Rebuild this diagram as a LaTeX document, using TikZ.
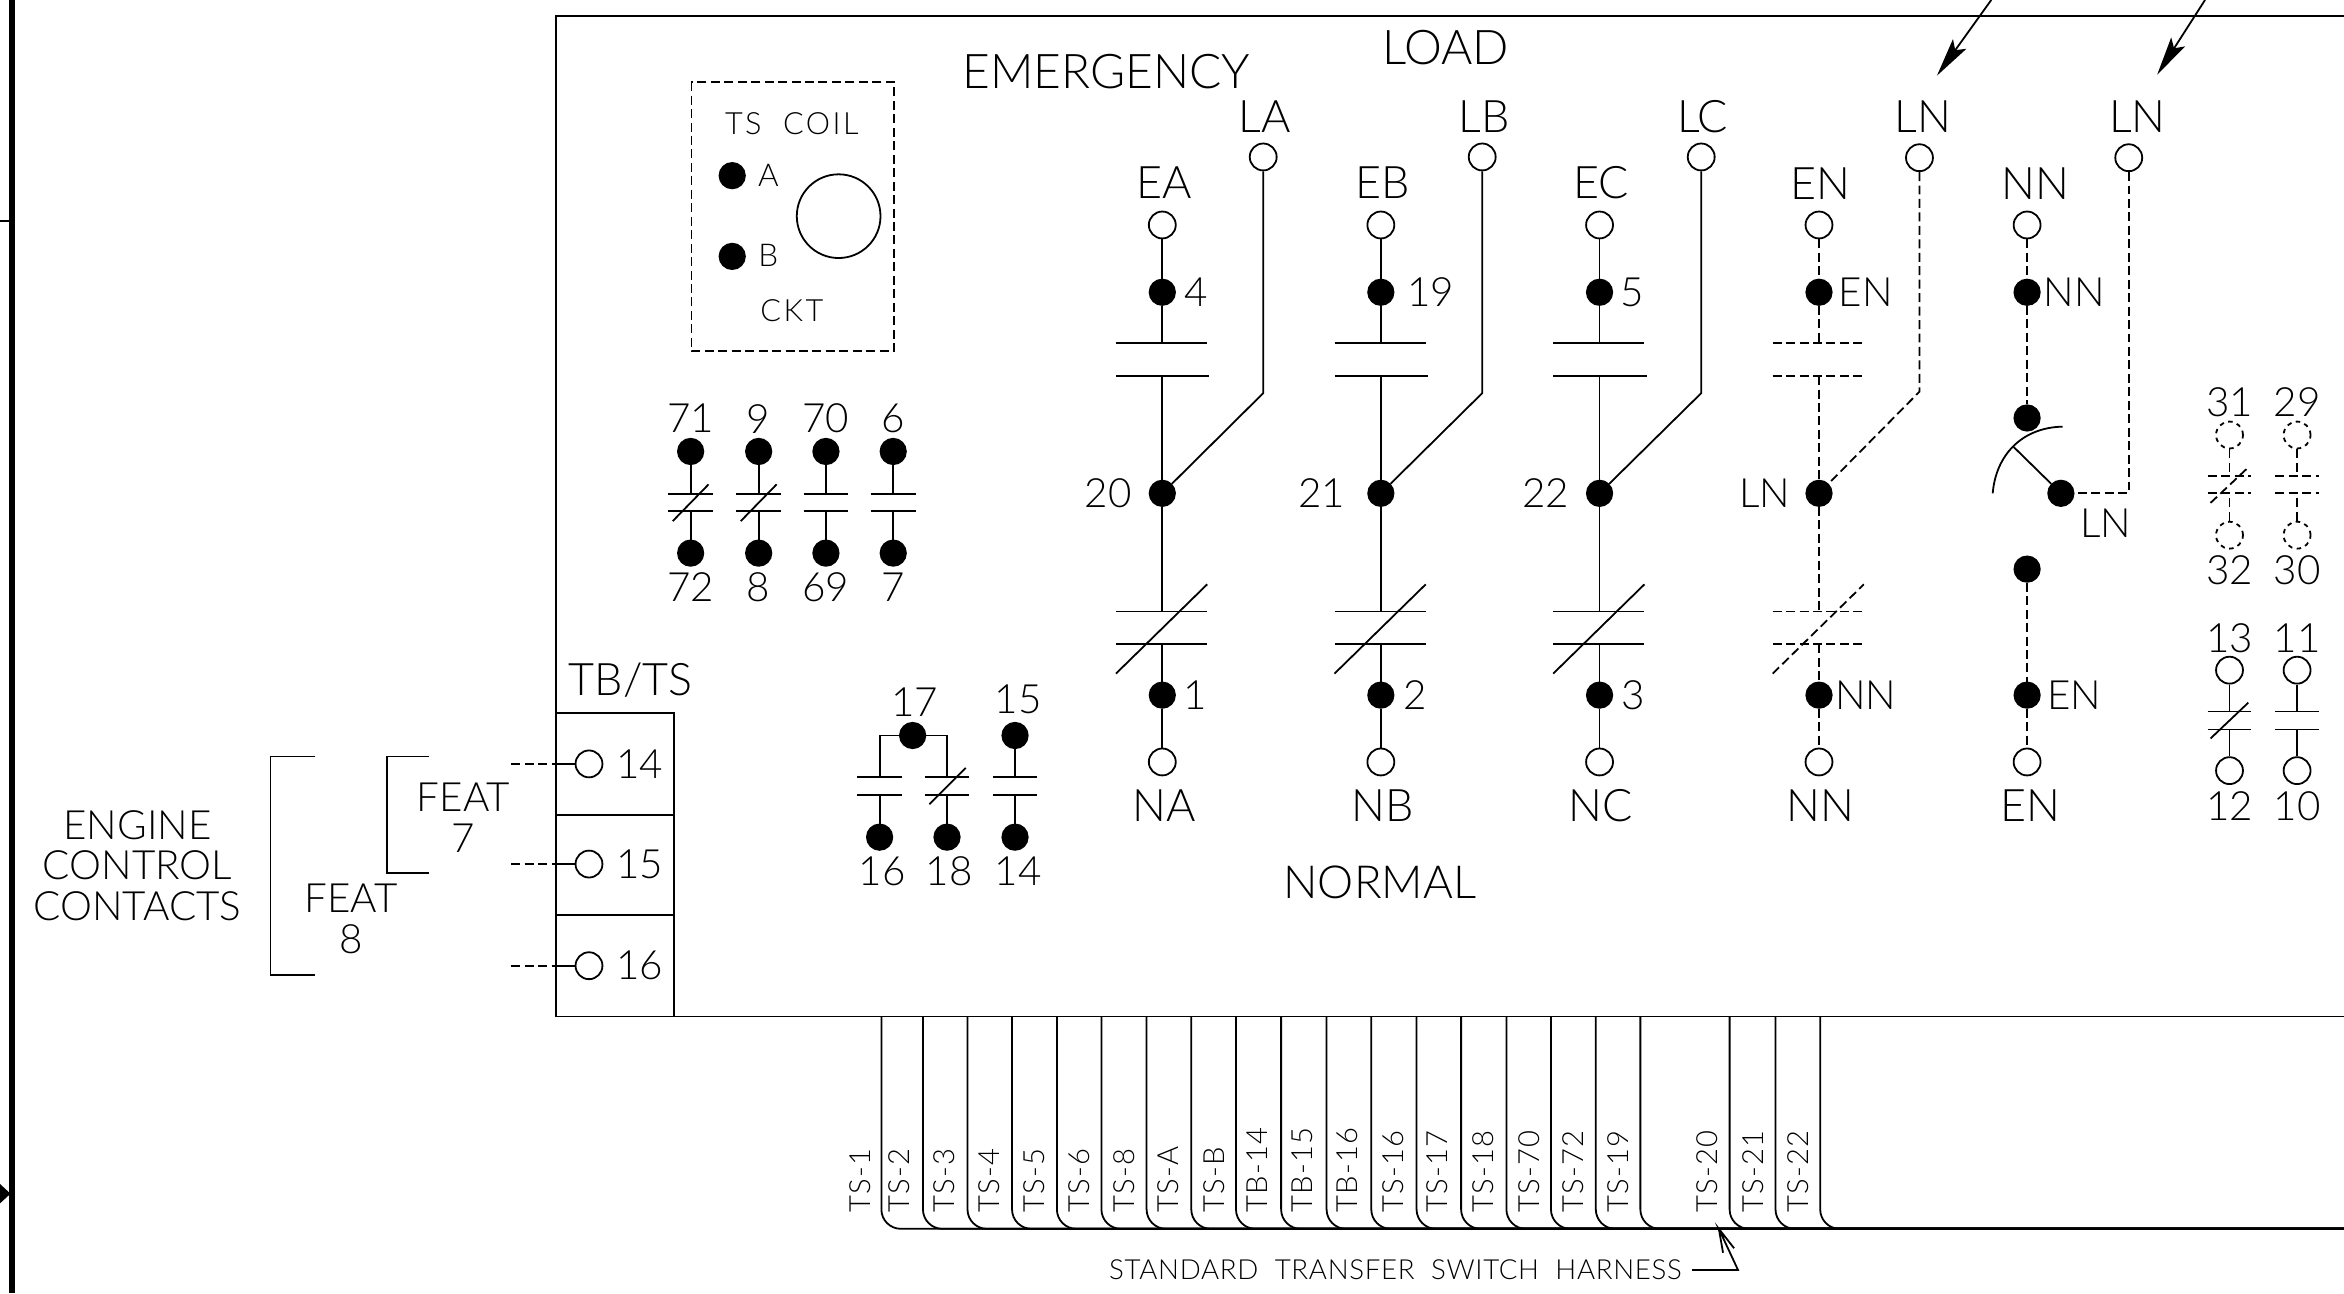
\documentclass[tikz,border=0pt]{standalone}
\usepackage{fontspec}
\setmainfont{Lato Light}
\newfontfamily\harnessfont[LetterSpace=2.5]{Lato Light}
\newfontfamily\wirefont[LetterSpace=5]{Lato Light}
\newfontfamily\coilfont[LetterSpace=8]{Lato Light}
\usetikzlibrary{arrows.meta}
\tikzstyle{every node}=[inner sep=0pt]
\tikzstyle{termdot}=[circle, fill=black, draw=black, minimum size=17pt]
\tikzstyle{termopen}=[circle, draw=black, fill=white, minimum size=18pt]
\tikzstyle{termdash}=[circle, draw=black, fill=white, dashed, minimum size=18pt]
\tikzstyle{bigtxt}=[font=\fontsize{32}{36}\selectfont]
\tikzstyle{lbltxt}=[font=\fontsize{30}{32}\selectfont]
\tikzstyle{numtxt}=[font=\fontsize{27}{29}\selectfont]
\tikzstyle{smalltxt}=[font=\fontsize{21}{23}\selectfont]
\tikzstyle{coiltxt}=[font=\coilfont\fontsize{20.5}{23}\selectfont]
\tikzstyle{wiretxt}=[font=\wirefont\fontsize{19.5}{21}\selectfont, rotate=90, anchor=west]
\tikzstyle{ctrl}=[dash pattern=on 6pt off 3pt]

\begin{document}
\begin{tikzpicture}[x=1pt, y=-1pt, line width=1.2pt]
\useasboundingbox (0,0) rectangle (1568,865);
% Sheet edge
    \draw[line width=3.4pt] (8,0) -- (8,865);
    \draw (0,148) -- (8,148);
    \fill (0,792) -- (7,798.5) -- (0,805) -- cycle;
% Panel
    \draw (1568,10.5) -- (372,10.5) -- (372,680) -- (1568,680);
    \draw (372,477) -- (451,477) -- (451,680);
    \draw (372,545) -- (451,545);
    \draw (372,612) -- (451,612);
    \node[lbltxt, anchor=west] (lTBTS) at (380,455) {TB/TS};
    \node[bigtxt] (lEmergency) at (740,48) {EMERGENCY};
    \node[bigtxt] (lLoad) at (967,32) {LOAD};
    \node[font=\fontsize{30.5}{34}\selectfont] (lNormal) at (923,590) {NORMAL};
% Terminal block
    \node[termopen] (tb14) at (394,511) {};
    \node[termopen] (tb15) at (394,578) {};
    \node[termopen] (tb16) at (394,646) {};
    \node[numtxt] (l14) at (428,511) {14};
    \node[numtxt] (l15) at (428,578) {15};
    \node[numtxt] (l16) at (428,646) {16};
    \coordinate (e14) at (342,511);
    \coordinate (e15) at (342,578);
    \coordinate (e16) at (342,646);
    \coordinate (w14) at (372,511);
    \coordinate (w15) at (372,578);
    \coordinate (w16) at (372,646);
    \draw (w14) -- (tb14);
    \draw (w15) -- (tb15);
    \draw (w16) -- (tb16);
    \draw[ctrl] (e14) -- (w14);
    \draw[ctrl] (e15) -- (w15);
    \draw[ctrl] (e16) -- (w16);
% Engine contacts
    \draw (287,506) -- (259,506) -- (259,584) -- (287,584);
    \draw (211,506) -- (181,506) -- (181,652) -- (211,652);
    \node[numtxt] (lFeatA) at (310,533) {FEAT};
    \node[numtxt] (lSeven) at (310,561) {7};
    \node[numtxt] (lFeatB) at (235,601) {FEAT};
    \node[numtxt] (lEight) at (235,628) {8};
    \node[numtxt] (lEngine) at (92,552) {ENGINE};
    \node[numtxt] (lControl) at (92,579) {CONTROL};
    \node[numtxt] (lContacts) at (92,606) {CONTACTS};
% TS coil
    \draw[ctrl] (462.5,55) rectangle (598,235);
    \node[coiltxt] (lCoil) at (529.7,83) {TS\ \ COIL};
    \node[coiltxt] (lCkt) at (529.7,208) {CKT};
    \node[termdot] (coilA) at (489.8,117.5) {};
    \node[termdot] (coilB) at (489.8,171.5) {};
    \node[smalltxt] (lA) at (514,117.5) {A};
    \node[smalltxt] (lB) at (514,171) {B};
    \node[circle, draw, minimum size=56pt] (coil) at (561,144.6) {};
% Auxiliary contacts, top row
    \node[termdot] (a71) at (462,302) {};
    \node[termdot] (a72) at (462,370) {};
    \node[termdot] (a9) at (507.5,302) {};
    \node[termdot] (a8) at (507.5,370) {};
    \node[termdot] (a70) at (552.5,302) {};
    \node[termdot] (a69) at (552.5,370) {};
    \node[termdot] (a6) at (597.5,302) {};
    \node[termdot] (a7) at (597.5,370) {};
    \draw (a71) -- (462,330.5);
    \draw (a72) -- (462,342);
    \draw (a9) -- (507.5,330.5);
    \draw (a8) -- (507.5,342);
    \draw (a70) -- (552.5,330.5);
    \draw (a69) -- (552.5,342);
    \draw (a6) -- (597.5,330.5);
    \draw (a7) -- (597.5,342);
    \draw (447,330.5) -- (477,330.5);
    \draw (447,342) -- (477,342);
    \draw (450,348.6) -- (474,324);
    \draw (492.5,330.5) -- (522.5,330.5);
    \draw (492.5,342) -- (522.5,342);
    \draw (495.5,348.6) -- (519.5,324);
    \draw (537.5,330.5) -- (567.5,330.5);
    \draw (537.5,342) -- (567.5,342);
    \draw (582.5,330.5) -- (612.5,330.5);
    \draw (582.5,342) -- (612.5,342);
    \node[numtxt] (l71) at (462,280) {71};
    \node[numtxt] (l9) at (507.5,280) {9};
    \node[numtxt] (l70) at (552.5,280) {70};
    \node[numtxt] (l6) at (597.5,280) {6};
    \node[numtxt] (l72) at (462,393) {72};
    \node[numtxt] (l8) at (507.5,393) {8};
    \node[numtxt] (l69) at (552.5,393) {69};
    \node[numtxt] (l7) at (597.5,393) {7};
% Auxiliary contacts, lower row
    \node[termdot] (a17) at (610.5,492) {};
    \node[termdot] (a15) at (679,492) {};
    \node[termdot] (a16) at (588.4,560) {};
    \node[termdot] (a18) at (633.5,560) {};
    \node[termdot] (a14) at (679,560) {};
    \coordinate (barL) at (588.4,492);
    \coordinate (barR) at (633.5,492);
    \draw (a17) -- (barL) -- (588.4,520);
    \draw (a17) -- (barR) -- (633.5,520);
    \draw (a15) -- (679,520);
    \draw (a16) -- (588.4,532);
    \draw (a18) -- (633.5,532);
    \draw (a14) -- (679,532);
    \draw (573.4,520) -- (603.4,520);
    \draw (573.4,532) -- (603.4,532);
    \draw (618.5,520) -- (648.5,520);
    \draw (618.5,532) -- (648.5,532);
    \draw (621.7,538) -- (646,513.7);
    \draw (664,520) -- (694,520);
    \draw (664,532) -- (694,532);
    \node[numtxt] (l17) at (612,470) {17};
    \node[numtxt] (l15b) at (681,468) {15};
    \node[numtxt] (l16b) at (590,582.6) {16};
    \node[numtxt] (l18) at (635,582.6) {18};
    \node[numtxt] (l14b) at (681,582.6) {14};
% Pole A
    \node[termopen] (ea) at (777.5,150.5) {};
    \node[termdot] (d4) at (777.5,195.5) {};
    \node[termdot] (d20) at (777.5,330) {};
    \node[termdot] (d1) at (777.5,465) {};
    \node[termopen] (na) at (777.5,509.7) {};
    \node[termopen] (la) at (845,105) {};
    \coordinate (kneeA) at (845,263);
    \draw (ea) -- (d4) -- (777.5,229.6);
    \draw (777.5,251.6) -- (d20) -- (777.5,409);
    \draw (777.5,431) -- (d1) -- (na);
    \draw (la) -- (kneeA) -- (d20);
    \draw (746.5,229.6) -- (807.5,229.6);
    \draw (746.5,251.6) -- (809,251.6);
    \draw (746.5,409) -- (807.5,409);
    \draw (746.5,431) -- (807.5,431);
    \draw (746.5,450.6) -- (807.5,390.9);
    \node[lbltxt] (lEA) at (779,122) {EA};
    \node[lbltxt] (lNA) at (779,539) {NA};
    \node[lbltxt] (lLA) at (846,78) {LA};
    \node[numtxt] (l4) at (800,195.5) {4};
    \node[numtxt] (l20) at (741.3,330) {20};
    \node[numtxt] (l1) at (799.5,465) {1};
% Pole B
    \node[termopen] (eb) at (923.7,150.5) {};
    \node[termdot] (d19) at (923.7,195.5) {};
    \node[termdot] (d21) at (923.7,330) {};
    \node[termdot] (d2) at (923.7,465) {};
    \node[termopen] (nb) at (923.7,509.7) {};
    \node[termopen] (lb) at (991.5,105) {};
    \coordinate (kneeB) at (991.5,263);
    \draw (eb) -- (d19) -- (923.7,229.6);
    \draw (923.7,251.6) -- (d21) -- (923.7,409);
    \draw (923.7,431) -- (d2) -- (nb);
    \draw (lb) -- (kneeB) -- (d21);
    \draw (892.7,229.6) -- (953.7,229.6);
    \draw (892.7,251.6) -- (955.2,251.6);
    \draw (892.7,409) -- (953.7,409);
    \draw (892.7,431) -- (953.7,431);
    \draw (892.7,450.6) -- (953.7,390.9);
    \node[lbltxt] (lEB) at (925,122) {EB};
    \node[lbltxt] (lNB) at (925,539) {NB};
    \node[lbltxt] (lLB) at (993,78) {LB};
    \node[numtxt] (l19) at (957,195.5) {19};
    \node[numtxt] (l21) at (884,330) {21};
    \node[numtxt] (l2) at (946.5,465) {2};
% Pole C
    \node[termopen] (ec) at (1070,150.5) {};
    \node[termdot] (d5) at (1070,195.5) {};
    \node[termdot] (d22) at (1070,330) {};
    \node[termdot] (d3) at (1070,465) {};
    \node[termopen] (nc) at (1070,509.7) {};
    \node[termopen] (lc) at (1138,105) {};
    \coordinate (kneeC) at (1138,263);
    \draw (ec) -- (d5) -- (1070,229.6);
    \draw (1070,251.6) -- (d22) -- (1070,409);
    \draw (1070,431) -- (d3) -- (nc);
    \draw (lc) -- (kneeC) -- (d22);
    \draw (1039,229.6) -- (1100,229.6);
    \draw (1039,251.6) -- (1101.5,251.6);
    \draw (1039,409) -- (1100,409);
    \draw (1039,431) -- (1100,431);
    \draw (1039,450.6) -- (1100,390.9);
    \node[lbltxt] (lEC) at (1071,122) {EC};
    \node[lbltxt] (lNC) at (1071,539) {NC};
    \node[lbltxt] (lLC) at (1139,78) {LC};
    \node[numtxt] (l5) at (1091.7,195.5) {5};
    \node[numtxt] (l22) at (1034,330) {22};
    \node[numtxt] (l3) at (1092.6,465) {3};
% Neutral pole
    \node[termopen] (en) at (1216.8,150.5) {};
    \node[termdot] (dEN) at (1216.8,195.5) {};
    \node[termdot] (dLN) at (1216.8,330) {};
    \node[termdot] (dNN) at (1216.8,465) {};
    \node[termopen] (nn) at (1216.8,509.7) {};
    \node[termopen] (ln) at (1284,105.5) {};
    \coordinate (kneeN) at (1284,262);
    \draw[ctrl] (en) -- (dEN) -- (1216.8,229.6);
    \draw[ctrl] (1216.8,251.6) -- (dLN) -- (1216.8,409);
    \draw[ctrl] (1216.8,431) -- (dNN) -- (nn);
    \draw[ctrl] (ln) -- (kneeN) -- (dLN);
    \draw[ctrl] (1185.8,229.6) -- (1246.8,229.6);
    \draw[ctrl] (1185.8,251.6) -- (1248.3,251.6);
    \draw[ctrl] (1185.8,409) -- (1246.8,409);
    \draw[ctrl] (1185.8,431) -- (1246.8,431);
    \draw[ctrl] (1185.8,450.6) -- (1246.8,390.9);
    \node[lbltxt] (lEN) at (1218,123) {EN};
    \node[lbltxt] (lNN) at (1218,539) {NN};
    \node[lbltxt] (lLN) at (1286.5,78) {LN};
    \node[numtxt] (lENb) at (1248,195.5) {EN};
    \node[numtxt] (lLNb) at (1180.6,330) {LN};
    \node[numtxt] (lNNb) at (1248,465) {NN};
% Neutral switch
    \node[termopen] (nnT) at (1356,150.5) {};
    \node[termdot] (sNN) at (1356,195.5) {};
    \node[termdot] (sUp) at (1356,279.6) {};
    \node[termdot] (sArm) at (1378.6,330) {};
    \node[termdot] (sLo) at (1356,380.7) {};
    \node[termdot] (sEN) at (1356,465) {};
    \node[termopen] (enB) at (1356,509.7) {};
    \node[termopen] (lnB) at (1424,105.5) {};
    \coordinate (armEnd) at (1347,299);
    \coordinate (kneeS) at (1424,330);
    \draw[ctrl] (nnT) -- (sNN) -- (sUp);
    \draw[ctrl] (sLo) -- (sEN) -- (enB);
    \draw[ctrl] (lnB) -- (kneeS) -- (sArm);
    \draw (sArm) -- (armEnd);
    \draw (1333,330) .. controls (1335,305) and (1352,286) .. (1379.7,285.4);
    \node[lbltxt] (lNNt) at (1361.6,123) {NN};
    \node[lbltxt] (lENt) at (1358,539) {EN};
    \node[lbltxt] (lLNt) at (1429.7,78) {LN};
    \node[numtxt] (lNNs) at (1387.6,195.5) {NN};
    \node[numtxt] (lENs) at (1387.6,465) {EN};
    \node[numtxt] (lLNs) at (1408.6,350) {LN};
% Leaders from outside
    \coordinate (arrA) at (1332,0);
    \coordinate (arrB) at (1475,0);
    \coordinate (tipA) at (1295.7,50.6);
    \coordinate (tipB) at (1443,50);
    \draw[-{Stealth[length=26pt,width=11pt,inset=5pt]}] (arrA) -- (tipA);
    \draw[-{Stealth[length=26pt,width=11pt,inset=5pt]}] (arrB) -- (tipB);
% Optional contacts
    \node[termdash] (o31) at (1491.4,291) {};
    \node[termdash] (o32) at (1491.4,358) {};
    \node[termdash] (o29) at (1536.6,291) {};
    \node[termdash] (o30) at (1536.6,358) {};
    \draw[ctrl] (o31) -- (1491.4,318.5);
    \draw[ctrl] (o32) -- (1491.4,330);
    \draw[ctrl] (o29) -- (1536.6,318.5);
    \draw[ctrl] (o30) -- (1536.6,330);
    \draw[ctrl] (1476.8,318.5) -- (1506,318.5);
    \draw[ctrl] (1476.8,330) -- (1506,330);
    \draw[ctrl] (1478.7,336.4) -- (1504,312.6);
    \draw[ctrl] (1522,318.5) -- (1551.2,318.5);
    \draw[ctrl] (1522,330) -- (1551.2,330);
    \node[termopen] (o13) at (1491.4,448.3) {};
    \node[termopen] (o12) at (1491.4,515.5) {};
    \node[termopen] (o11) at (1536.6,448.3) {};
    \node[termopen] (o10) at (1536.6,515.5) {};
    \draw (o13) -- (1491.4,476);
    \draw (o12) -- (1491.4,488);
    \draw (o11) -- (1536.6,476);
    \draw (o10) -- (1536.6,488);
    \draw (1476.8,476) -- (1506,476);
    \draw (1476.8,488) -- (1506,488);
    \draw (1478.7,494) -- (1504,470);
    \draw (1522,476) -- (1551.2,476);
    \draw (1522,488) -- (1551.2,488);
    \node[numtxt] (l31) at (1491.4,269) {31};
    \node[numtxt] (l29) at (1536.6,269) {29};
    \node[numtxt] (l32) at (1491.4,381.5) {32};
    \node[numtxt] (l30) at (1536.6,381.5) {30};
    \node[numtxt] (l13) at (1491.4,426.7) {13};
    \node[numtxt] (l11) at (1536.6,426.7) {11};
    \node[numtxt] (l12) at (1491.4,539) {12};
    \node[numtxt] (l10) at (1536.6,539) {10};
% Harness
    \draw[rounded corners=13pt] (589.6,680) |- (1568,822);
    \draw[rounded corners=13pt] (617.4,680) |- (1568,822);
    \draw[rounded corners=13pt] (647.2,680) |- (1568,822);
    \draw[rounded corners=13pt] (677,680) |- (1568,822);
    \draw[rounded corners=13pt] (707,680) |- (1568,822);
    \draw[rounded corners=13pt] (736.8,680) |- (1568,822);
    \draw[rounded corners=13pt] (767,680) |- (1568,822);
    \draw[rounded corners=13pt] (796.9,680) |- (1568,822);
    \draw[rounded corners=13pt] (826.8,680) |- (1568,822);
    \draw[rounded corners=13pt] (857,680) |- (1568,822);
    \draw[rounded corners=13pt] (887.4,680) |- (1568,822);
    \draw[rounded corners=13pt] (917.3,680) |- (1568,822);
    \draw[rounded corners=13pt] (947.6,680) |- (1568,822);
    \draw[rounded corners=13pt] (977.4,680) |- (1568,822);
    \draw[rounded corners=13pt] (1007.7,680) |- (1568,822);
    \draw[rounded corners=13pt] (1037.5,680) |- (1568,822);
    \draw[rounded corners=13pt] (1067.5,680) |- (1568,822);
    \draw[rounded corners=13pt] (1097.3,680) |- (1568,822);
    \draw[rounded corners=13pt] (1157,680) |- (1568,822);
    \draw[rounded corners=13pt] (1187.7,680) |- (1568,822);
    \draw[rounded corners=13pt] (1217.6,680) |- (1568,822);
    \node[wiretxt] (wTS1) at (575.5,812) {TS-1};
    \node[wiretxt] (wTS2) at (601.5,812) {TS-2};
    \node[wiretxt] (wTS3) at (631.8,812) {TS-3};
    \node[wiretxt] (wTS4) at (662,812) {TS-4};
    \node[wiretxt] (wTS5) at (692,812) {TS-5};
    \node[wiretxt] (wTS6) at (721.8,812) {TS-6};
    \node[wiretxt] (wTS8) at (751.7,812) {TS-8};
    \node[wiretxt] (wTSA) at (781.6,812) {TS-A};
    \node[wiretxt] (wTSB) at (812,812) {TS-B};
    \node[wiretxt] (wTB14) at (841,812) {TB-14};
    \node[wiretxt] (wTB15) at (871,812) {TB-15};
    \node[wiretxt] (wTB16) at (901,812) {TB-16};
    \node[wiretxt] (wTS16) at (932,812) {TS-16};
    \node[wiretxt] (wTS17) at (961.6,812) {TS-17};
    \node[wiretxt] (wTS18) at (992,812) {TS-18};
    \node[wiretxt] (wTS70) at (1022.7,812) {TS-70};
    \node[wiretxt] (wTS72) at (1052.5,812) {TS-72};
    \node[wiretxt] (wTS19) at (1082.3,812) {TS-19};
    \node[wiretxt] (wTS20) at (1142,812) {TS-20};
    \node[wiretxt] (wTS21) at (1172.6,812) {TS-21};
    \node[wiretxt] (wTS22) at (1202.7,812) {TS-22};
    \node[font=\harnessfont\fontsize{18.5}{20}\selectfont] (lHarness) at (933.5,849.5) {STANDARD\ \ TRANSFER\ \ SWITCH\ \ HARNESS};
    \coordinate (harA) at (1132,849.5);
    \coordinate (harB) at (1162.6,849.5);
    \coordinate (harTip) at (1149.8,822);
    \draw (harA) -- (harB) -- (harTip) -- (1160,835);
    \draw (harTip) -- (1152.6,838);
\end{tikzpicture}
\end{document}
